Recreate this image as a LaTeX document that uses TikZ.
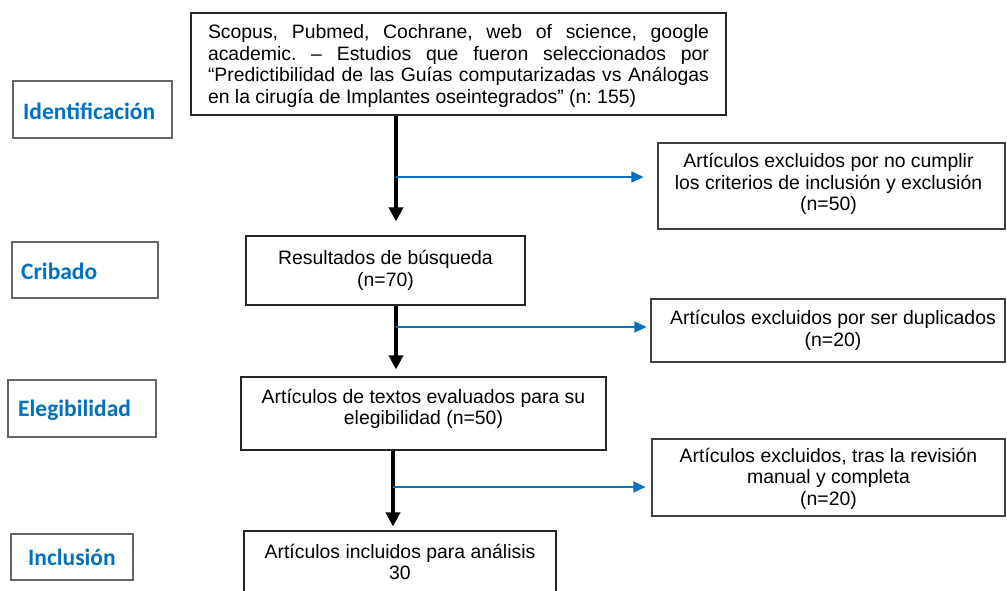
\documentclass[tikz,border=0pt]{standalone}
\usepackage{fontspec}
\setmainfont{Liberation Sans}
\newfontfamily\labfont{Carlito}
\usetikzlibrary{arrows.meta,calc}
\definecolor{offblue}{RGB}{0,112,192}
\newcommand{\boxtextfont}{\fontsize{19.4}{21.5}\selectfont\frenchspacing\hyphenpenalty=10000 \exhyphenpenalty=10000 \relax}
\begin{document}
\begin{tikzpicture}[x=1pt,y=-1pt,
  mainbox/.style={draw=black!85, line width=1.1pt, inner sep=0pt},
  sidebox/.style={draw=black!75, line width=1.1pt, inner sep=0pt},
  txt/.style={inner sep=0pt, align=center, font=\boxtextfont},
  labbox/.style={draw=black!60, line width=1.6pt, inner sep=0pt},
  labtext/.style={font=\labfont\bfseries\fontsize{23.5}{26}\selectfont, text=offblue, anchor=west, inner sep=0pt},
  flow/.style={line width=4.5pt, -{Triangle[length=14pt,width=14pt]}},
  side/.style={draw=offblue, line width=1.3pt, -{Triangle[length=12pt,width=11pt]}}]
\useasboundingbox (0,0) rectangle (1007,591);
\begin{scope}
\clip (0,0) rectangle (1007,591);
% left labels
\node[labbox, minimum width=159pt, minimum height=57pt] (L1) at (92.5,109.5) {};
\node[labtext] (T1) at (23,111) {Identificación};
\node[labbox, minimum width=146pt, minimum height=56pt] (L2) at (85,270) {};
\node[labtext] (T2) at (21,271) {Cribado};
\node[labbox, minimum width=148pt, minimum height=57pt] (L3) at (82,408.5) {};
\node[labtext] (T3) at (18,410) {Elegibilidad};
\node[labbox, minimum width=122pt, minimum height=46pt] (L4) at (72,557) {};
\node[labtext] (T4) at (28,557) {Inclusión};
% main boxes
\node[mainbox, minimum width=535pt, minimum height=102pt] (top) at (458.5,64) {};
\node[txt, text width=501pt, align=justify] (topt) at ($(top)+(0,2)$)
  {Scopus, Pubmed, Cochrane, web of science, google academic. – Estudios que fueron seleccionados por “Predictibilidad de las Guías computarizadas vs Análogas en la cirugía de Implantes oseintegrados” (n: 155)};
\node[mainbox, minimum width=279pt, minimum height=69pt] (crib) at (385.5,270.5) {};
\node[txt] (cribt) at ($(crib)+(0,0)$) {Resultados de búsqueda\\(n=70)};
\node[mainbox, minimum width=365pt, minimum height=73pt] (elig) at (423.5,413.5) {};
\node[txt] (eligt) at ($(elig)+(0,-4.5)$) {Artículos de textos evaluados para su\\elegibilidad (n=50)};
\node[mainbox, minimum width=312pt, minimum height=62pt] (incl) at (400,562) {};
\node[txt] (inclt) at (incl) {Artículos incluidos para análisis\\30};
% side boxes
\node[sidebox, minimum width=347pt, minimum height=86pt] (ex1) at (831.5,186) {};
\node[txt] (ex1t) at ($(ex1)+(-3,-2)$) {Artículos excluidos por no cumplir\\los criterios de inclusión y exclusión\\(n=50)};
\node[sidebox, minimum width=354pt, minimum height=63pt] (ex2) at (828,330.5) {};
\node[txt] (ex2t) at ($(ex2)+(5,0)$) {Artículos excluidos por ser duplicados\\(n=20)};
\node[sidebox, minimum width=353pt, minimum height=77pt] (ex3) at (828.5,477.5) {};
\node[txt] (ex3t) at ($(ex3)+(0,1)$) {Artículos excluidos, tras la revisión\\manual y completa\\(n=20)};
% arrow coordinates
\coordinate (c1) at (396,0);
\coordinate (c3) at (393,0);
\coordinate (b1) at (396,177);
\coordinate (b2) at (396,327);
\coordinate (b3) at (393,487);
% flow arrows
\draw[flow, shorten >=14pt] (c1 |- top.south) -- (c1 |- crib.north);
\draw[flow, shorten >=7pt] (c1 |- crib.south) -- (c1 |- elig.north);
\draw[flow, shorten >=4pt] (c3 |- elig.south) -- (c3 |- incl.north);
% side arrows
\draw[side, shorten >=14pt] (b1) -- (b1 -| ex1.west);
\draw[side, shorten >=4pt] (b2) -- (b2 -| ex2.west);
\draw[side, shorten >=6pt] (b3) -- (b3 -| ex3.west);
\end{scope}
\end{tikzpicture}
\end{document}
